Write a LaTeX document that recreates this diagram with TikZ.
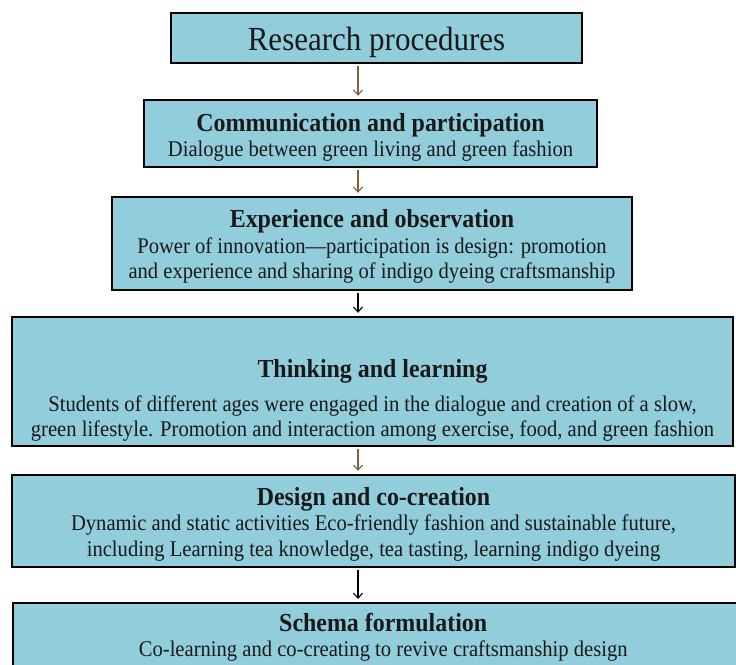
\documentclass[tikz,border=0pt]{standalone}
\usepackage{fontspec}
\setmainfont[FakeStretch=0.92]{Liberation Serif}
\usepackage{tikz}
\usetikzlibrary{arrows.meta}

\definecolor{BoxBlue}{RGB}{146,205,220}
\definecolor{ArrowBrown}{RGB}{128,96,64}

\newcommand{\stagehead}[1]{{\bfseries\fontsize{26}{27}\selectfont #1}}

\begin{document}
\begin{tikzpicture}[x=1pt, y=-1pt]
		\tikzstyle{stage}=[draw=black, fill=BoxBlue, line width=2.4pt, align=center, inner sep=0pt, text=black!90, font=\fontsize{22.4}{25.5}\selectfont];
		\tikzstyle{flow}=[line width=1.1pt, -{Straight Barb[length=5pt, width=9pt]}, shorten <=2pt, shorten >=3pt];
		\clip (0,0) rectangle (736,664);
		\fill[white] (0,0) rectangle (736,664);
		\coordinate (axis) at (358,0);
		\node [stage, minimum width=411, minimum height=50, font=\fontsize{33.7}{34}\selectfont] (proc) at (376.5,38) {\rule{0pt}{32pt}Research procedures};
		\node [stage, minimum width=453, minimum height=67] (comm) at (370.5,133.5) {\rule{0pt}{26pt}\stagehead{Communication and participation}\\ Dialogue between green living and green fashion};
		\node [stage, minimum width=520, minimum height=93] (expe) at (372,243.5) {\rule{0pt}{24pt}\stagehead{Experience and observation}\\ Power of innovation---participation is design: promotion\\ and experience and sharing of indigo dyeing craftsmanship};
		\node [stage, minimum width=721, minimum height=129] (think) at (372.5,381.5) {\rule{0pt}{56pt}\stagehead{Thinking and learning}\\[8pt] Students of different ages were engaged in the dialogue and creation of a slow,\\ green lifestyle. Promotion and interaction among exercise, food, and green fashion};
		\node [stage, minimum width=723, minimum height=92] (design) at (373.5,521) {\rule{0pt}{24pt}\stagehead{Design and co-creation}\\ Dynamic and static activities Eco-friendly fashion and sustainable future,\\ including Learning tea knowledge, tea tasting, learning indigo dyeing};
		\node [stage, minimum width=740, minimum height=100, anchor=north west] (schema) at (12,602) {\rule{0pt}{28pt}\stagehead{Schema formulation}\\ Co-learning and co-creating to revive craftsmanship design\\[40pt]};
		\draw[flow, ArrowBrown] (proc.south -| axis) -- (comm.north -| axis);
		\draw[flow, ArrowBrown] (comm.south -| axis) -- (expe.north -| axis);
		\draw[flow, black] (expe.south -| axis) -- (think.north -| axis);
		\draw[flow, ArrowBrown] (think.south -| axis) -- (design.north -| axis);
		\draw[flow, black] (design.south -| axis) -- (schema.north -| axis);
	\end{tikzpicture}
\end{document}
